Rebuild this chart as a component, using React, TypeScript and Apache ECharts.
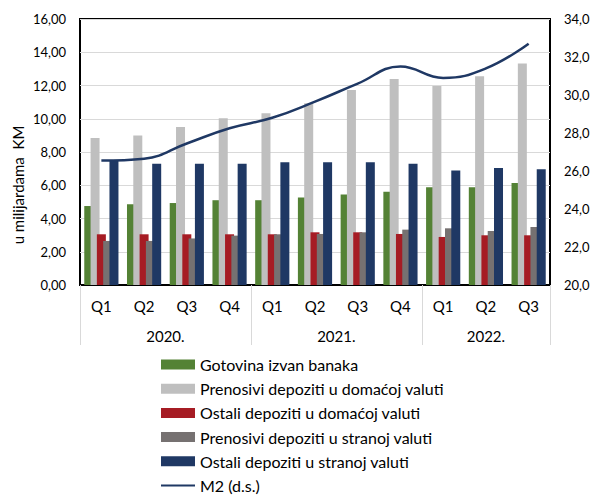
import React, { useEffect, useRef } from "react";
import * as echarts from "echarts";

const quarters = ["Q1", "Q2", "Q3", "Q4", "Q1", "Q2", "Q3", "Q4", "Q1", "Q2", "Q3"];
const years = ["2020.", "2021.", "2022."];
const gotovina = [4.75, 4.85, 4.93, 5.1, 5.1, 5.27, 5.45, 5.61, 5.88, 5.88, 6.14];
const prenosiviDom = [8.84, 9.0, 9.5, 10.03, 10.33, 10.93, 11.73, 12.39, 11.97, 12.55, 13.33];
const ostaliDom = [3.05, 3.05, 3.05, 3.05, 3.05, 3.17, 3.17, 3.07, 2.89, 2.99, 2.99];
const prenosiviStr = [2.65, 2.65, 2.8, 2.97, 3.05, 3.07, 3.17, 3.33, 3.41, 3.25, 3.49];
const ostaliStr = [7.5, 7.3, 7.3, 7.3, 7.38, 7.38, 7.38, 7.3, 6.88, 7.04, 6.96];
const m2 = [26.55, 26.65, 27.45, 28.25, 28.8, 29.65, 30.6, 31.5, 30.9, 31.4, 32.7];

const seriesNames = [
  "Gotovina izvan banaka",
  "Prenosivi depoziti u domaćoj valuti",
  "Ostali depoziti u domaćoj valuti",
  "Prenosivi depoziti u stranoj valuti",
  "Ostali depoziti u stranoj valuti",
  "M2 (d.s.)",
];
const colors = ["#548235", "#bfbfbf", "#a61c24", "#767171", "#1f3864", "#1f3864"];

const FONT = "Lato";
const LINE_ICON = "path://M0 0H0.01V0.01H0Z M33.99 9.99H34V10H33.99Z M0 3.9H34V6.1H0Z";

export default function App() {
  const ref = useRef<HTMLDivElement>(null);
  useEffect(() => {
    if (!ref.current) return;
    const chart = echarts.init(ref.current, null, { renderer: "svg" });
    const fmt2 = (v: number) => v.toFixed(2).replace(".", ",");
    const fmt1 = (v: number) => v.toFixed(1).replace(".", ",");
    const barData = [gotovina, prenosiviDom, ostaliDom, prenosiviStr, ostaliStr];
    const yearIdx: Record<number, string> = { 1: "a", 5: "b", 9: "c" };
    const yearOf: Record<number, string> = { 1: years[0], 5: years[1], 9: years[2] };
    chart.setOption({
      animation: false,
      textStyle: { fontFamily: FONT },
      grid: {
        left: 80,
        right: 40,
        top: 19,
        bottom: 210,
        outerBoundsMode: "none",
        containLabel: false,
        show: true,
        borderColor: "#000",
        borderWidth: 2,
        backgroundColor: "transparent",
      },
      legend: {
        orient: "vertical",
        left: 161,
        top: 356,
        padding: 0,
        height: 200,
        itemWidth: 34,
        itemHeight: 10,
        itemGap: 7.2,
        textStyle: { fontSize: 16, color: "#000", fontFamily: FONT, lineHeight: 17 },
        data: seriesNames.map((n, i) =>
          i < 5 ? { name: n, icon: "rect" } : { name: n, icon: LINE_ICON }
        ),
      },
      xAxis: [
        {
          type: "category",
          data: quarters,
          position: "bottom",
          axisLine: { show: true, lineStyle: { color: "#000", width: 2 } },
          axisTick: { show: false },
          axisLabel: { margin: 13, fontSize: 15, color: "#000", fontFamily: FONT, interval: 0 },
        },
        {
          type: "category",
          data: quarters,
          position: "bottom",
          axisLine: { show: false },
          axisTick: {
            show: true,
            length: 60,
            interval: (index: number) => index % 4 === 0,
            lineStyle: { color: "#d9d9d9", width: 1 },
          },
          axisLabel: {
            interval: 0,
            margin: 43,
            fontSize: 15,
            color: "#000",
            fontFamily: FONT,
            formatter: (_v: string, index: number) =>
              yearIdx[index] ? `{${yearIdx[index]}|${yearOf[index]}}` : "",
            rich: {
              a: { fontSize: 15, color: "#000", fontFamily: FONT, padding: [0, 0, 0, 42.7] },
              b: { fontSize: 15, color: "#000", fontFamily: FONT, padding: [0, 0, 0, 42.7] },
              c: { fontSize: 15, color: "#000", fontFamily: FONT },
            },
          },
          splitLine: { show: false },
        },
      ],
      yAxis: [
        {
          type: "value",
          min: 0,
          max: 16,
          interval: 2,
          axisLine: { show: false },
          axisTick: { show: false },
          splitLine: { lineStyle: { color: "#d9d9d9", width: 1 } },
          axisLabel: { formatter: fmt2, margin: 14, fontSize: 13, color: "#000", fontFamily: FONT },
        },
        {
          type: "value",
          min: 20,
          max: 34,
          interval: 2,
          position: "right",
          axisLine: { show: false },
          axisTick: { show: false },
          splitLine: { show: false },
          axisLabel: { formatter: fmt1, margin: 14, fontSize: 13, color: "#000", fontFamily: FONT },
        },
      ],
      graphic: [
        {
          type: "text",
          x: 18,
          y: 185,
          rotation: Math.PI / 2,
          style: {
            text: "u milijardama  KM",
            fontSize: 15,
            fontFamily: FONT,
            fill: "#000",
            align: "center",
            verticalAlign: "middle",
          },
        },
      ],
      series: [
        ...barData.map((d, i) => ({
          name: seriesNames[i],
          type: "bar",
          data: d,
          barWidth: 9,
          barGap: "-30%",
          itemStyle: { color: colors[i] },
          xAxisIndex: 0,
          yAxisIndex: 0,
        })),
        {
          name: seriesNames[5],
          type: "line",
          data: m2,
          xAxisIndex: 0,
          yAxisIndex: 1,
          symbol: "none",
          smooth: 0.45,
          z: 5,
          lineStyle: { color: colors[5], width: 2.5 },
          itemStyle: { color: colors[5] },
        },
      ],
    });
    return () => chart.dispose();
  }, []);
  return (
    <div
      ref={ref}
      style={{ position: "fixed", left: 0, top: 0, width: 590, height: 495, background: "#fff" }}
    />
  );
}
